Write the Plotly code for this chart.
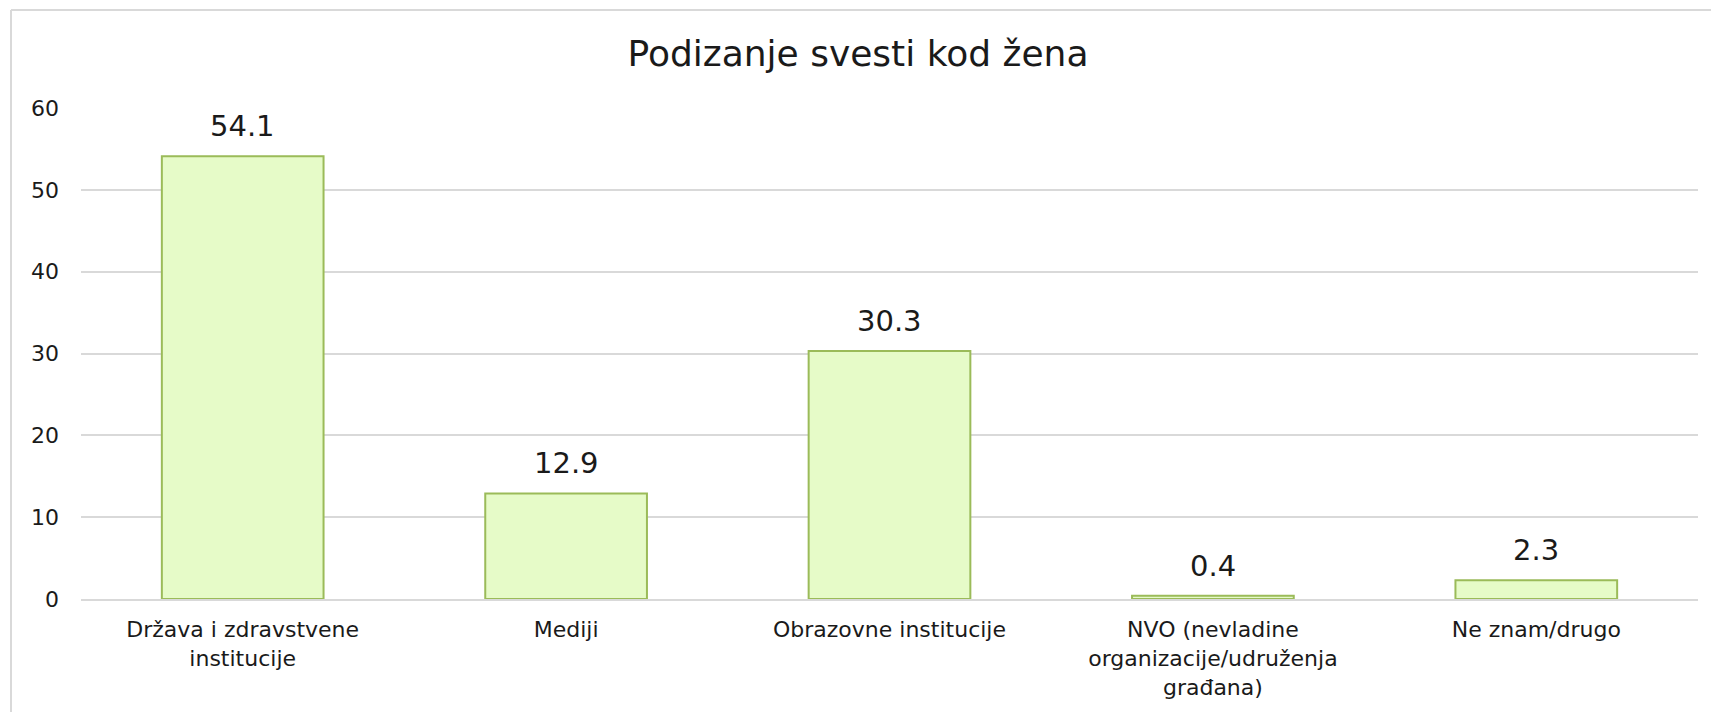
import plotly.graph_objects as go

categories = ["Država i zdravstvene<br>institucije", "Mediji", "Obrazovne institucije",
              "NVO (nevladine<br>organizacije/udruženja<br>građana)", "Ne znam/drugo"]
values = [54.1, 12.9, 30.3, 0.4, 2.3]
value_labels = ["54.1", "12.9", "30.3", "0.4", "2.3"]
y_ticks = [0, 10, 20, 30, 40, 50, 60]
title_text = "Podizanje svesti kod žena"

W, H = 1711, 712
L, R, T, B = 81, 13, 108, 113
FONT = "DejaVu Sans"

fig = go.Figure()
fig.add_trace(go.Bar(
    x=categories, y=values,
    marker=dict(color="#E6FBC8", line=dict(color="#9BBB59", width=2)),
    width=0.5, hoverinfo="skip",
))

for c, v, t in zip(categories, values, value_labels):
    fig.add_annotation(x=c, y=v, text=t, showarrow=False, yanchor="bottom",
                       yshift=11, font=dict(family=FONT, size=29, color="#1a1a1a"))

pw = W - L - R
ph = H - T - B
# chart border (top and left visible)
fig.add_shape(type="line", xref="paper", yref="paper",
              x0=(11 - L) / pw, x1=(W + 5 - L) / pw, y0=(H - B - 10) / ph, y1=(H - B - 10) / ph,
              line=dict(color="#D9D9D9", width=2))
fig.add_shape(type="line", xref="paper", yref="paper",
              x0=(11 - L) / pw, x1=(11 - L) / pw, y0=(H - B - 10) / ph, y1=(H - B - H - 5) / ph,
              line=dict(color="#D9D9D9", width=2))

fig.update_layout(
    width=W, height=H,
    margin=dict(l=L, r=R, t=T, b=B),
    paper_bgcolor="white", plot_bgcolor="white",
    showlegend=False,
    title=dict(text=title_text, x=858 / W, xref="container", xanchor="center",
               y=1 - 53 / H, yref="container", yanchor="middle",
               font=dict(family=FONT, size=36, color="#1a1a1a")),
    bargap=0.5,
)
fig.update_yaxes(range=[0, 60], tickvals=y_ticks, showgrid=True, gridcolor="#D9D9D9", gridwidth=1.5,
                 zeroline=False, showline=False, ticks="", ticklabelstandoff=21,
                 tickfont=dict(family=FONT, size=22, color="#1a1a1a"), fixedrange=True)
fig.update_xaxes(showline=True, linecolor="#D9D9D9", linewidth=2, ticks="",
                 ticklabelstandoff=10,
                 tickfont=dict(family=FONT, size=22, color="#1a1a1a"), fixedrange=True)

fig.write_html("out.html", post_script="document.body.style.margin='0';",
               config={"displayModeBar": False})
